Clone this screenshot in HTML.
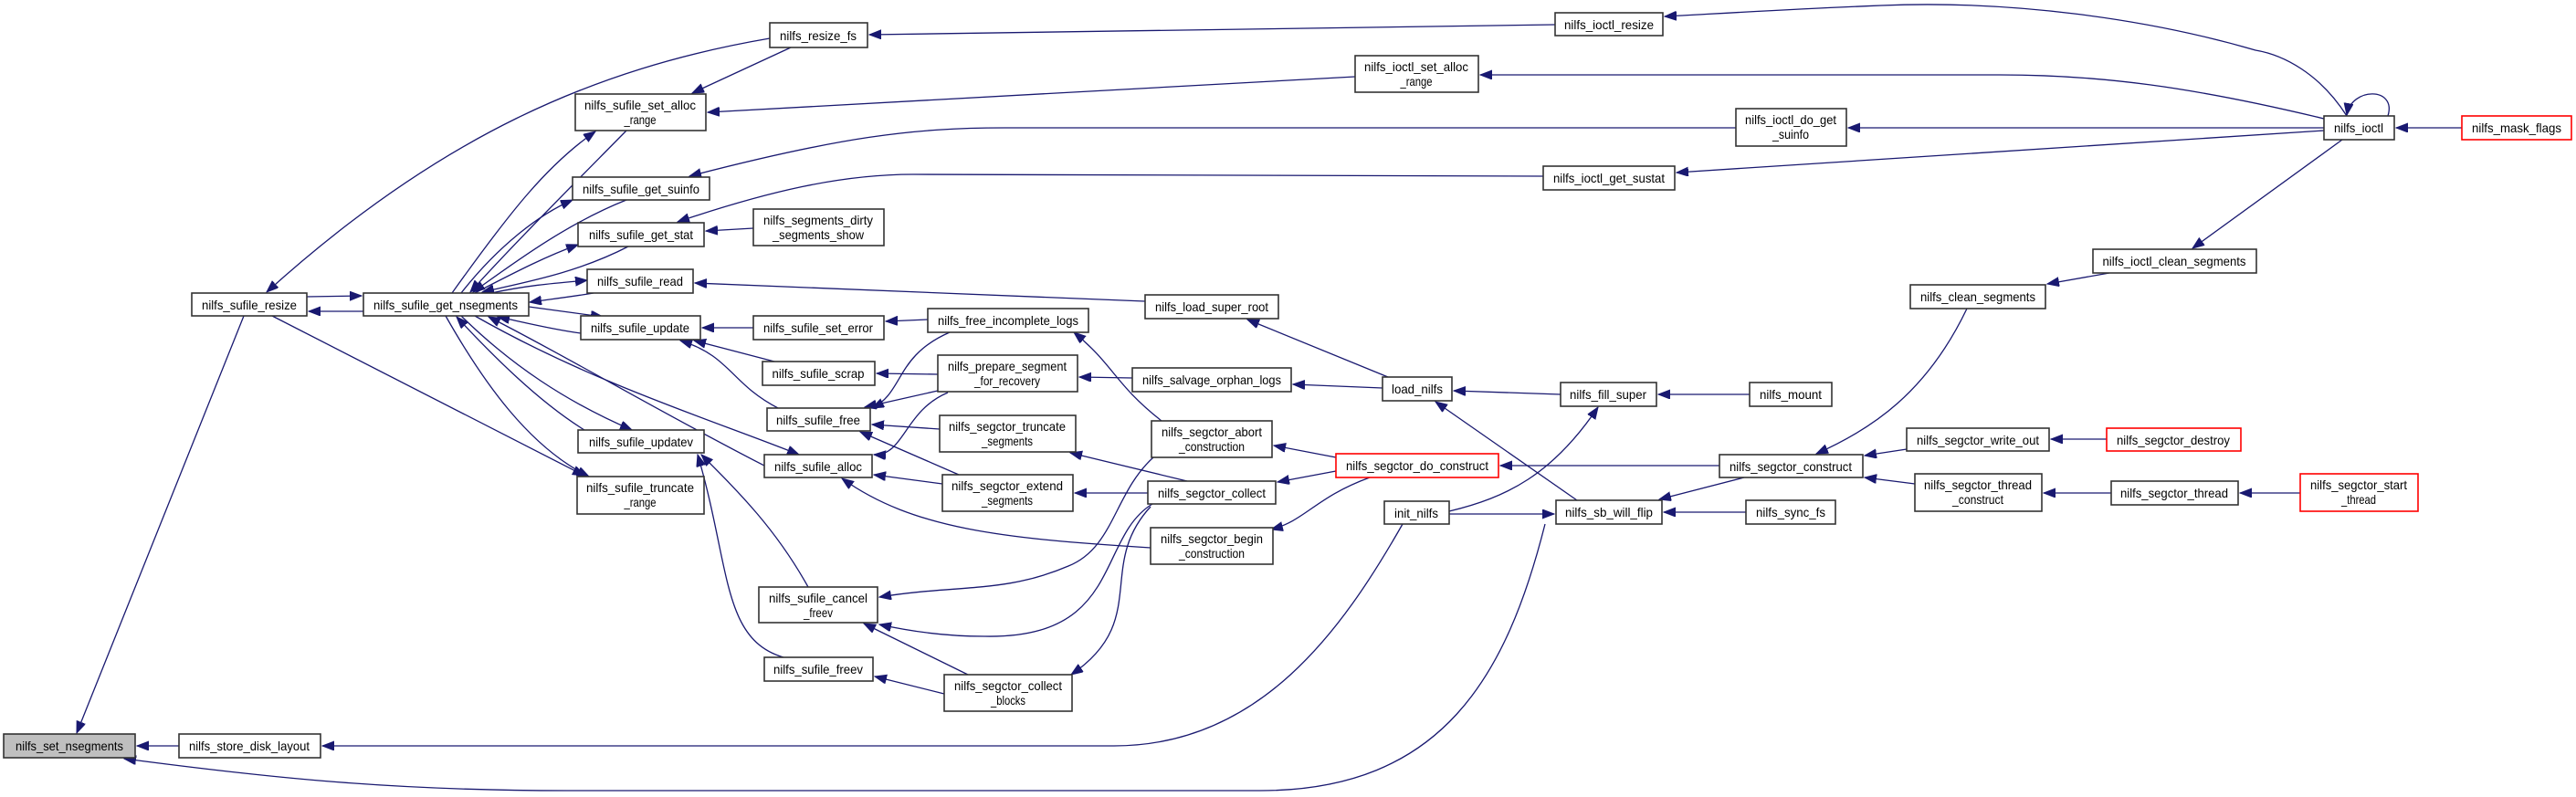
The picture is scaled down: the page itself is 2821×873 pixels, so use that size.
<!DOCTYPE html>
<html><head><meta charset="utf-8"><style>
html,body{margin:0;padding:0;background:#fff;}
svg{display:block;}
text{font-family:"Liberation Sans",sans-serif;font-size:14px;fill:#000;}
.n{fill:#fff;stroke:#333;stroke-width:1.6;}
.r{fill:#fff;stroke:#ff0000;stroke-width:1.6;}
.g{fill:#bfbfbf;stroke:#333;stroke-width:1.6;}
.e{fill:none;stroke:#191970;stroke-width:1.3;marker-end:url(#a);}
</style></head><body>
<svg width="2821" height="873" viewBox="0 0 2821 873" xmlns="http://www.w3.org/2000/svg">
<defs><marker id="a" markerUnits="userSpaceOnUse" markerWidth="14" markerHeight="12" refX="13" refY="5" orient="auto"><path d="M0,0 L13,5 L0,10 z" fill="#191970" stroke="#191970"/></marker></defs>

<!-- edges -->
<path class="e" d="M196,817 L150,817"/>
<path class="e" d="M267,346 L84,803"/>
<path class="e" d="M1692,574 C1650,740 1580,866 1380,866 L620,866 C420,866 280,850 136,831"/>
<path class="e" d="M1536,574 C1470,690 1380,817 1220,817 L353,817"/>
<path class="e" d="M398,341 L338,341"/>
<path class="e" d="M336,325 L396,324"/>
<path class="e" d="M843,42 C650,75 480,150 292,320"/>
<path class="e" d="M495,321 C560,230 600,180 652,144"/>
<path class="e" d="M686,143 C620,210 560,270 515,320"/>
<path class="e" d="M505,321 C545,270 590,235 627,219"/>
<path class="e" d="M686,219 C620,245 560,290 518,320"/>
<path class="e" d="M520,321 C570,295 600,280 633,268"/>
<path class="e" d="M688,270 C630,300 570,310 528,320"/>
<path class="e" d="M538,321 C580,312 610,310 643,307"/>
<path class="e" d="M650,321 C620,326 600,328 580,331"/>
<path class="e" d="M579,336 L660,347"/>
<path class="e" d="M636,365 C600,360 570,352 545,347"/>
<path class="e" d="M505,346 C560,400 620,440 692,471"/>
<path class="e" d="M640,471 C590,440 540,390 500,347"/>
<path class="e" d="M488,346 C530,420 580,490 645,522"/>
<path class="e" d="M298,346 L640,521"/>
<path class="e" d="M520,346 C650,420 780,460 875,498"/>
<path class="e" d="M837,510 C720,450 620,390 535,347"/>
<path class="e" d="M1703,27 L952,38"/>
<path class="e" d="M866,52 L758,102"/>
<path class="e" d="M1484,84 L775,123"/>
<path class="e" d="M1901,140 L1100,140 C1000,140 920,150 755,193"/>
<path class="e" d="M1690,193 L1000,191 C920,191 840,210 742,243"/>
<path class="e" d="M825,250 L773,253"/>
<path class="e" d="M1254,330 L761,310"/>
<path class="e" d="M825,359 L769,359"/>
<path class="e" d="M1016,350 L970,352"/>
<path class="e" d="M848,396 L760,373"/>
<path class="e" d="M852,447 C800,420 800,390 745,373"/>
<path class="e" d="M1027,410 L960,409"/>
<path class="e" d="M1027,428 L947,446"/>
<path class="e" d="M1040,364 C980,390 990,430 955,447"/>
<path class="e" d="M1029,470 L955,465"/>
<path class="e" d="M1050,520 L942,473"/>
<path class="e" d="M1038,430 C990,450 990,500 957,498"/>
<path class="e" d="M1032,530 L957,520"/>
<path class="e" d="M1260,600 C1100,590 1000,580 922,524"/>
<path class="e" d="M1240,414 L1182,413"/>
<path class="e" d="M1514,425 L1416,421"/>
<path class="e" d="M1520,413 L1366,350"/>
<path class="e" d="M1272,461 C1220,420 1220,400 1176,364"/>
<path class="e" d="M1300,527 L1172,496"/>
<path class="e" d="M1257,540 L1177,540"/>
<path class="e" d="M1463,501 L1395,488"/>
<path class="e" d="M1463,516 L1399,528"/>
<path class="e" d="M1500,523 C1440,545 1430,570 1392,580"/>
<path class="e" d="M1883,510 L1643,510"/>
<path class="e" d="M1263,501 C1220,540 1220,600 1170,620 C1100,650 1050,640 963,654"/>
<path class="e" d="M1262,552 C1200,590 1230,700 1078,697 C1030,697 990,690 963,684"/>
<path class="e" d="M1060,739 L946,683"/>
<path class="e" d="M1260,555 C1200,620 1260,680 1173,739"/>
<path class="e" d="M1034,760 L958,741"/>
<path class="e" d="M885,643 C850,580 810,540 768,498"/>
<path class="e" d="M858,720 C790,700 800,620 764,498"/>
<path class="e" d="M1709,432 L1592,428"/>
<path class="e" d="M1727,548 L1572,440"/>
<path class="e" d="M1916,432 L1816,432"/>
<path class="e" d="M1587,560 C1650,545 1700,520 1750,446"/>
<path class="e" d="M1587,563 L1702,563"/>
<path class="e" d="M1912,561 L1822,561"/>
<path class="e" d="M1910,523 L1817,547"/>
<path class="e" d="M2154,338 C2110,430 2050,470 1989,497"/>
<path class="e" d="M2088,492 L2042,499"/>
<path class="e" d="M2097,530 L2042,523"/>
<path class="e" d="M2307,481 L2246,481"/>
<path class="e" d="M2312,540 L2238,540"/>
<path class="e" d="M2519,540 L2453,540"/>
<path class="e" d="M2310,299 L2242,311"/>
<path class="e" d="M2565,153 L2401,272"/>
<path class="e" d="M2696,140 L2624,140"/>
<path class="e" d="M2615,127 C2625,95 2575,95 2570,126"/>
<path class="e" d="M2570,127 C2540,80 2500,60 2470,55 C2350,20 2200,0 2060,6 C1960,10 1880,15 1823,18"/>
<path class="e" d="M2545,130 C2400,95 2300,82 2190,82 L1621,82"/>
<path class="e" d="M2545,140 L2024,140"/>
<path class="e" d="M2545,143 L1836,189"/>

<!-- nodes -->
<g>
<rect class="g" x="4" y="804" width="144" height="26"/><text x="76" y="822" text-anchor="middle" textLength="118" lengthAdjust="spacingAndGlyphs">nilfs_set_nsegments</text>
<rect class="n" x="196" y="804" width="155" height="26"/><text x="273" y="822" text-anchor="middle" textLength="132" lengthAdjust="spacingAndGlyphs">nilfs_store_disk_layout</text>
<rect class="n" x="210" y="321" width="126" height="25"/><text x="273" y="339" text-anchor="middle" textLength="104" lengthAdjust="spacingAndGlyphs">nilfs_sufile_resize</text>
<rect class="n" x="398" y="321" width="181" height="25"/><text x="488" y="339" text-anchor="middle" textLength="158" lengthAdjust="spacingAndGlyphs">nilfs_sufile_get_nsegments</text>
<rect class="n" x="843" y="25" width="107" height="27"/><text x="896" y="44" text-anchor="middle" textLength="84" lengthAdjust="spacingAndGlyphs">nilfs_resize_fs</text>
<rect class="n" x="630" y="103" width="143" height="40"/><text x="701" y="120" text-anchor="middle" textLength="122" lengthAdjust="spacingAndGlyphs">nilfs_sufile_set_alloc</text><text x="701" y="136" text-anchor="middle" textLength="35" lengthAdjust="spacingAndGlyphs">_range</text>
<rect class="n" x="627" y="194" width="150" height="25"/><text x="702" y="212" text-anchor="middle" textLength="128" lengthAdjust="spacingAndGlyphs">nilfs_sufile_get_suinfo</text>
<rect class="n" x="633" y="244" width="138" height="26"/><text x="702" y="262" text-anchor="middle" textLength="114" lengthAdjust="spacingAndGlyphs">nilfs_sufile_get_stat</text>
<rect class="n" x="825" y="229" width="143" height="40"/><text x="896" y="246" text-anchor="middle" textLength="120" lengthAdjust="spacingAndGlyphs">nilfs_segments_dirty</text><text x="896" y="262" text-anchor="middle" textLength="100" lengthAdjust="spacingAndGlyphs">_segments_show</text>
<rect class="n" x="643" y="295" width="116" height="26"/><text x="701" y="313" text-anchor="middle" textLength="94" lengthAdjust="spacingAndGlyphs">nilfs_sufile_read</text>
<rect class="n" x="1254" y="323" width="146" height="26"/><text x="1327" y="341" text-anchor="middle" textLength="124" lengthAdjust="spacingAndGlyphs">nilfs_load_super_root</text>
<rect class="n" x="636" y="346" width="131" height="26"/><text x="701" y="364" text-anchor="middle" textLength="108" lengthAdjust="spacingAndGlyphs">nilfs_sufile_update</text>
<rect class="n" x="825" y="346" width="143" height="26"/><text x="896" y="364" text-anchor="middle" textLength="120" lengthAdjust="spacingAndGlyphs">nilfs_sufile_set_error</text>
<rect class="n" x="1016" y="338" width="176" height="26"/><text x="1104" y="356" text-anchor="middle" textLength="154" lengthAdjust="spacingAndGlyphs">nilfs_free_incomplete_logs</text>
<rect class="n" x="835" y="396" width="123" height="26"/><text x="896" y="414" text-anchor="middle" textLength="101" lengthAdjust="spacingAndGlyphs">nilfs_sufile_scrap</text>
<rect class="n" x="1027" y="389" width="153" height="40"/><text x="1103" y="406" text-anchor="middle" textLength="130" lengthAdjust="spacingAndGlyphs">nilfs_prepare_segment</text><text x="1103" y="422" text-anchor="middle" textLength="72" lengthAdjust="spacingAndGlyphs">_for_recovery</text>
<rect class="n" x="1240" y="403" width="174" height="26"/><text x="1327" y="421" text-anchor="middle" textLength="152" lengthAdjust="spacingAndGlyphs">nilfs_salvage_orphan_logs</text>
<rect class="n" x="1514" y="413" width="76" height="26"/><text x="1552" y="431" text-anchor="middle" textLength="56" lengthAdjust="spacingAndGlyphs">load_nilfs</text>
<rect class="n" x="840" y="447" width="113" height="25"/><text x="896" y="465" text-anchor="middle" textLength="92" lengthAdjust="spacingAndGlyphs">nilfs_sufile_free</text>
<rect class="n" x="1029" y="455" width="149" height="40"/><text x="1103" y="472" text-anchor="middle" textLength="128" lengthAdjust="spacingAndGlyphs">nilfs_segctor_truncate</text><text x="1103" y="488" text-anchor="middle" textLength="56" lengthAdjust="spacingAndGlyphs">_segments</text>
<rect class="n" x="1261" y="461" width="132" height="40"/><text x="1327" y="478" text-anchor="middle" textLength="110" lengthAdjust="spacingAndGlyphs">nilfs_segctor_abort</text><text x="1327" y="494" text-anchor="middle" textLength="72" lengthAdjust="spacingAndGlyphs">_construction</text>
<rect class="n" x="633" y="471" width="138" height="25"/><text x="702" y="489" text-anchor="middle" textLength="114" lengthAdjust="spacingAndGlyphs">nilfs_sufile_updatev</text>
<rect class="n" x="837" y="498" width="118" height="25"/><text x="896" y="516" text-anchor="middle" textLength="96" lengthAdjust="spacingAndGlyphs">nilfs_sufile_alloc</text>
<rect class="r" x="1463" y="497" width="178" height="26"/><text x="1552" y="515" text-anchor="middle" textLength="156" lengthAdjust="spacingAndGlyphs">nilfs_segctor_do_construct</text>
<rect class="n" x="632" y="522" width="139" height="41"/><text x="701" y="539" text-anchor="middle" textLength="118" lengthAdjust="spacingAndGlyphs">nilfs_sufile_truncate</text><text x="701" y="555" text-anchor="middle" textLength="35" lengthAdjust="spacingAndGlyphs">_range</text>
<rect class="n" x="1032" y="520" width="143" height="40"/><text x="1103" y="537" text-anchor="middle" textLength="122" lengthAdjust="spacingAndGlyphs">nilfs_segctor_extend</text><text x="1103" y="553" text-anchor="middle" textLength="56" lengthAdjust="spacingAndGlyphs">_segments</text>
<rect class="n" x="1257" y="527" width="140" height="25"/><text x="1327" y="545" text-anchor="middle" textLength="118" lengthAdjust="spacingAndGlyphs">nilfs_segctor_collect</text>
<rect class="n" x="1516" y="549" width="71" height="25"/><text x="1551" y="567" text-anchor="middle" textLength="48" lengthAdjust="spacingAndGlyphs">init_nilfs</text>
<rect class="n" x="1260" y="578" width="134" height="40"/><text x="1327" y="595" text-anchor="middle" textLength="112" lengthAdjust="spacingAndGlyphs">nilfs_segctor_begin</text><text x="1327" y="611" text-anchor="middle" textLength="72" lengthAdjust="spacingAndGlyphs">_construction</text>
<rect class="n" x="831" y="643" width="130" height="39"/><text x="896" y="660" text-anchor="middle" textLength="108" lengthAdjust="spacingAndGlyphs">nilfs_sufile_cancel</text><text x="896" y="676" text-anchor="middle" textLength="32" lengthAdjust="spacingAndGlyphs">_freev</text>
<rect class="n" x="837" y="720" width="119" height="26"/><text x="896" y="738" text-anchor="middle" textLength="98" lengthAdjust="spacingAndGlyphs">nilfs_sufile_freev</text>
<rect class="n" x="1034" y="739" width="140" height="40"/><text x="1104" y="756" text-anchor="middle" textLength="118" lengthAdjust="spacingAndGlyphs">nilfs_segctor_collect</text><text x="1104" y="772" text-anchor="middle" textLength="38" lengthAdjust="spacingAndGlyphs">_blocks</text>
<rect class="n" x="1703" y="14" width="118" height="25"/><text x="1762" y="32" text-anchor="middle" textLength="98" lengthAdjust="spacingAndGlyphs">nilfs_ioctl_resize</text>
<rect class="n" x="1484" y="61" width="135" height="40"/><text x="1551" y="78" text-anchor="middle" textLength="114" lengthAdjust="spacingAndGlyphs">nilfs_ioctl_set_alloc</text><text x="1551" y="94" text-anchor="middle" textLength="35" lengthAdjust="spacingAndGlyphs">_range</text>
<rect class="n" x="1901" y="119" width="121" height="41"/><text x="1961" y="136" text-anchor="middle" textLength="100" lengthAdjust="spacingAndGlyphs">nilfs_ioctl_do_get</text><text x="1961" y="152" text-anchor="middle" textLength="40" lengthAdjust="spacingAndGlyphs">_suinfo</text>
<rect class="n" x="1690" y="182" width="144" height="26"/><text x="1762" y="200" text-anchor="middle" textLength="122" lengthAdjust="spacingAndGlyphs">nilfs_ioctl_get_sustat</text>
<rect class="n" x="2545" y="127" width="77" height="26"/><text x="2583" y="145" text-anchor="middle" textLength="54" lengthAdjust="spacingAndGlyphs">nilfs_ioctl</text>
<rect class="r" x="2696" y="127" width="120" height="26"/><text x="2756" y="145" text-anchor="middle" textLength="98" lengthAdjust="spacingAndGlyphs">nilfs_mask_flags</text>
<rect class="n" x="2292" y="273" width="179" height="26"/><text x="2381" y="291" text-anchor="middle" textLength="157" lengthAdjust="spacingAndGlyphs">nilfs_ioctl_clean_segments</text>
<rect class="n" x="2092" y="312" width="148" height="26"/><text x="2166" y="330" text-anchor="middle" textLength="126" lengthAdjust="spacingAndGlyphs">nilfs_clean_segments</text>
<rect class="n" x="1709" y="419" width="105" height="26"/><text x="1761" y="437" text-anchor="middle" textLength="84" lengthAdjust="spacingAndGlyphs">nilfs_fill_super</text>
<rect class="n" x="1916" y="419" width="90" height="26"/><text x="1961" y="437" text-anchor="middle" textLength="68" lengthAdjust="spacingAndGlyphs">nilfs_mount</text>
<rect class="n" x="2088" y="469" width="156" height="25"/><text x="2166" y="487" text-anchor="middle" textLength="134" lengthAdjust="spacingAndGlyphs">nilfs_segctor_write_out</text>
<rect class="r" x="2307" y="469" width="147" height="25"/><text x="2380" y="487" text-anchor="middle" textLength="124" lengthAdjust="spacingAndGlyphs">nilfs_segctor_destroy</text>
<rect class="n" x="1883" y="498" width="157" height="25"/><text x="1961" y="516" text-anchor="middle" textLength="134" lengthAdjust="spacingAndGlyphs">nilfs_segctor_construct</text>
<rect class="n" x="2097" y="519" width="139" height="41"/><text x="2166" y="536" text-anchor="middle" textLength="118" lengthAdjust="spacingAndGlyphs">nilfs_segctor_thread</text><text x="2166" y="552" text-anchor="middle" textLength="56" lengthAdjust="spacingAndGlyphs">_construct</text>
<rect class="n" x="2312" y="527" width="139" height="26"/><text x="2381" y="545" text-anchor="middle" textLength="118" lengthAdjust="spacingAndGlyphs">nilfs_segctor_thread</text>
<rect class="r" x="2519" y="519" width="129" height="41"/><text x="2583" y="536" text-anchor="middle" textLength="106" lengthAdjust="spacingAndGlyphs">nilfs_segctor_start</text><text x="2583" y="552" text-anchor="middle" textLength="38" lengthAdjust="spacingAndGlyphs">_thread</text>
<rect class="n" x="1704" y="548" width="116" height="26"/><text x="1762" y="566" text-anchor="middle" textLength="96" lengthAdjust="spacingAndGlyphs">nilfs_sb_will_flip</text>
<rect class="n" x="1912" y="548" width="98" height="26"/><text x="1961" y="566" text-anchor="middle" textLength="76" lengthAdjust="spacingAndGlyphs">nilfs_sync_fs</text>
</g>
</svg>
</body></html>
